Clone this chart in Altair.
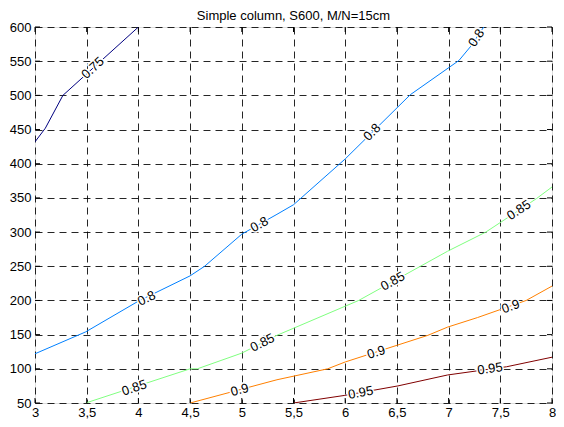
import math
import altair as alt
import pandas as pd

# ---------------- data ----------------
level_names = ["0.75", "0.8", "0.85", "0.9", "0.95"]
level_colors = ["#000080", "#0080FF", "#80FF80", "#FF8000", "#800000"]

c075_x = [3.0, 3.1, 3.27, 4.0]
c075_y = [432, 452, 500, 600]

c080_x = [3.0, 3.49, 4.0, 4.5, 4.64, 5.0, 5.34, 5.5, 6.0, 6.63, 7.1, 7.21, 7.34]
c080_y = [122, 154, 199, 236, 250, 297, 326, 340, 407, 501, 551, 571, 600]

c085_x = [3.49, 4.5, 4.57, 5.0, 5.34, 6.13, 6.99, 7.36, 7.85, 8.0]
c085_y = [50, 100, 100, 123, 149, 200, 272, 300, 349, 366]

c090_x = [4.5, 5.34, 5.83, 6.0, 6.8, 6.99, 7.28, 7.75, 8.0]
c090_y = [50, 84, 100, 110, 149, 161, 175, 200, 221]

c095_x = [5.5, 5.99, 6.51, 6.99, 7.56, 8.0]
c095_y = [50, 61, 75, 91, 103, 117]

# contour label positions (x, y) per level
lab075_x = [3.56]
lab075_y = [540]
lab080_x = [4.08, 5.17, 6.26, 7.27]
lab080_y = [203, 311, 446, 584]
lab085_x = [3.96, 5.2, 6.46, 7.68]
lab085_y = [72, 138, 228, 332]
lab090_x = [4.98, 6.3, 7.6]
lab090_y = [69, 124, 191]
lab095_x = [6.15, 7.4]
lab095_y = [65, 100]

x_ticks = [3, 3.5, 4, 4.5, 5, 5.5, 6, 6.5, 7, 7.5, 8]
y_ticks = [50, 100, 150, 200, 250, 300, 350, 400, 450, 500, 550, 600]

title_text = "Simple column, S600, M/N=15cm"

# ---------------- layout ----------------
W, H = 517, 376
XDOM = [3, 8]
YDOM = [50, 600]
FONT = "Liberation Sans"

lines_x = [c075_x, c080_x, c085_x, c090_x, c095_x]
lines_y = [c075_y, c080_y, c085_y, c090_y, c095_y]
labs_x = [lab075_x, lab080_x, lab085_x, lab090_x, lab095_x]
labs_y = [lab075_y, lab080_y, lab085_y, lab090_y, lab095_y]

line_rows = []
for name, xs, ys in zip(level_names, lines_x, lines_y):
    for i, (xv, yv) in enumerate(zip(xs, ys)):
        line_rows.append({"level": name, "i": i, "x": xv, "y": yv})
line_df = pd.DataFrame(line_rows)

px_per_x = W / (XDOM[1] - XDOM[0])
px_per_y = H / (YDOM[1] - YDOM[0])

label_rows = []
for name, xs, ys, lx, ly in zip(level_names, lines_x, lines_y, labs_x, labs_y):
    for xv, yv in zip(lx, ly):
        k = 0
        for j in range(len(xs) - 1):
            if xs[j] <= xv <= xs[j + 1]:
                k = j
                break
        dx = (xs[k + 1] - xs[k]) * px_per_x
        dy = (ys[k + 1] - ys[k]) * px_per_y
        ang = -math.degrees(math.atan2(dy, dx))
        label_rows.append({"level": name, "x": xv, "y": yv, "angle": (ang + 360) % 360})
label_df = pd.DataFrame(label_rows)

xs_scale = alt.Scale(domain=XDOM, nice=False, zero=False)
ys_scale = alt.Scale(domain=YDOM, nice=False, zero=False)

x_axis = alt.Axis(
    values=x_ticks, labelExpr="replace(toString(datum.value), '.', ',')",
    grid=True, gridDash=[7, 5], gridColor="#000000", gridOpacity=0.85,
    tickSize=0, domain=False, labelPadding=3, title=None,
    labelFont=FONT, labelFontSize=13, labelColor="#000000", labelFlush=False,
)
y_axis = alt.Axis(
    values=y_ticks, grid=True, gridDash=[7, 5], gridColor="#000000", gridOpacity=0.85,
    tickSize=0, domain=False, labelPadding=4, title=None,
    labelFont=FONT, labelFontSize=13, labelColor="#000000", labelFlush=False,
)

X = alt.X("x:Q", scale=xs_scale, axis=x_axis)
Y = alt.Y("y:Q", scale=ys_scale, axis=y_axis)

color_scale = alt.Scale(domain=level_names, range=level_colors)

lines = alt.Chart(line_df).mark_line(strokeWidth=1, clip=True).encode(
    x=X, y=Y,
    color=alt.Color("level:N", scale=color_scale, legend=None),
    order="i:Q",
    detail="level:N",
)

halo = alt.Chart(label_df).mark_text(
    font=FONT, fontSize=13, align="center", baseline="middle",
    color="white", stroke="white", strokeWidth=3,
).encode(
    x=X, y=Y, text="level:N",
    angle=alt.Angle("angle:Q", scale=None),
)

labels = alt.Chart(label_df).mark_text(
    font=FONT, fontSize=13, align="center", baseline="middle", color="black",
).encode(
    x=X, y=Y, text="level:N",
    angle=alt.Angle("angle:Q", scale=None),
)

xt_df = pd.DataFrame({"x": x_ticks})
yt_df = pd.DataFrame({"y": y_ticks})
TL = 5
tick_top = alt.Chart(xt_df).mark_rule(color="black", strokeWidth=1).encode(
    x=X, y=alt.value(0), y2=alt.value(TL))
tick_bot = alt.Chart(xt_df).mark_rule(color="black", strokeWidth=1).encode(
    x=X, y=alt.value(H - TL), y2=alt.value(H))
tick_left = alt.Chart(yt_df).mark_rule(color="black", strokeWidth=1).encode(
    y=Y, x=alt.value(0), x2=alt.value(TL))
tick_right = alt.Chart(yt_df).mark_rule(color="black", strokeWidth=1).encode(
    y=Y, x=alt.value(W - TL), x2=alt.value(W))

chart = alt.layer(
    lines, tick_top, tick_bot, tick_left, tick_right, halo, labels
).properties(
    width=W, height=H,
    title=alt.TitleParams(title_text, font=FONT, fontSize=13, fontWeight="normal",
                          color="black", anchor="middle", offset=0, dy=2),
    autosize=alt.AutoSizeParams(type="none"),
    padding={"left": 27, "top": 19, "right": 4, "bottom": 16},
).configure_view(
    stroke="black", strokeWidth=1.2
).configure(background="white")

chart.save("out.html", embed_options={"renderer": "svg", "actions": False})
